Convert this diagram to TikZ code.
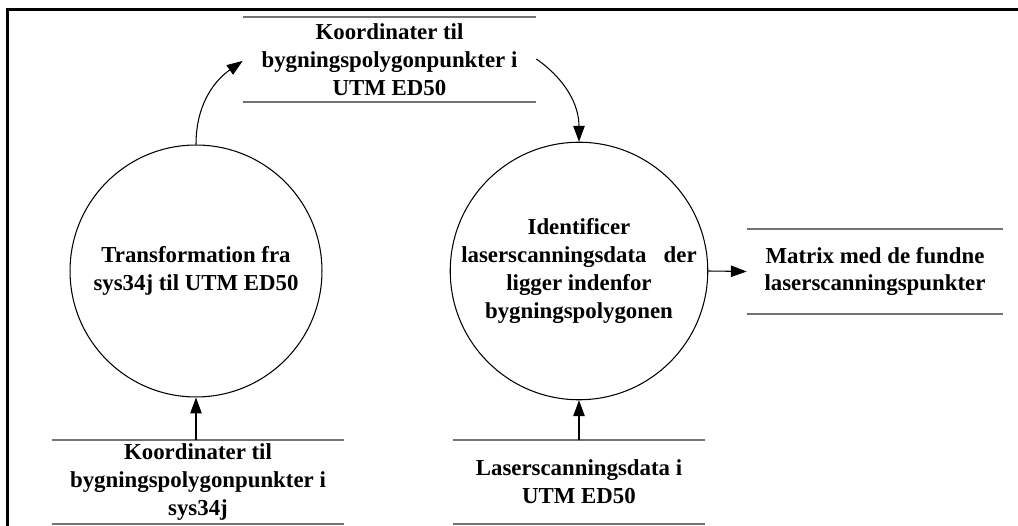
\documentclass[tikz,border=0pt]{standalone}
\usepackage{fontspec}
\setmainfont{Liberation Serif}
\usetikzlibrary{arrows.meta}

\begin{document}
\begin{tikzpicture}[x=0.02cm, y=-0.02cm,
  lbl/.style={font=\fontsize{13pt}{15.9pt}\selectfont\bfseries, align=center},
  process/.style={circle, draw, line width=0.6pt, minimum size=5.04cm, inner sep=0pt, lbl},
  datastore/.style={draw=none, inner sep=0pt, lbl},
  storeline/.style={draw=black!55, line width=1.1pt},
  flow/.style={draw, line width=0.6pt, -{Triangle[length=9pt,width=6.5pt]}},
  frame/.style={draw, line width=1.7pt}
]
\useasboundingbox (0,0) rectangle (1018,526);

% outer frame (only the top and left sides fall inside the page)
\draw[frame] (7.7,526) -- (7.7,10) -- (1018,10);

% processes
\node[process] (trans) at (196,271) {Transformation fra\\sys34j til UTM ED50};
\node[process] (ident) at (579,271) {Identificer\\laserscanningsdata\hspace{0.5em} der\\ligger indenfor\\bygningspolygonen};

% data stores
\node[datastore, minimum width=5.86cm, minimum height=1.686cm] (utm) at (389.5,59.5)
  {Koordinater til\\bygningspolygonpunkter i\\UTM ED50};
\node[datastore, minimum width=5.84cm, minimum height=1.65cm] (sys) at (198,482)
  {Koordinater til\\bygningspolygonpunkter i\\sys34j};
\node[datastore, minimum width=5.04cm, minimum height=1.65cm] (laser) at (579,482)
  {Laserscanningsdata i\\UTM ED50};
\node[datastore, minimum width=5.12cm, minimum height=1.70cm] (matrix) at (875,271.5)
  {Matrix med de fundne\\laserscanningspunkter};

% store top and bottom rules
\foreach \s in {utm,sys,laser,matrix}{
  \draw[storeline] (\s.north west) -- (\s.north east);
  \draw[storeline] (\s.south west) -- (\s.south east);
}

% data flows
\draw[flow] (sys.north -| trans.south) -- (trans.south);
\draw[flow] (laser.north) -- (ident.south);
\draw[flow] (trans.north) to[out=90, in=215] ([yshift=-0.8pt]utm.west);
\draw[flow] ([yshift=0.3pt]utm.east) to[out=-35, in=90] (ident.north);
\draw[flow] (ident.east) -- (matrix.west);
\end{tikzpicture}
\end{document}
